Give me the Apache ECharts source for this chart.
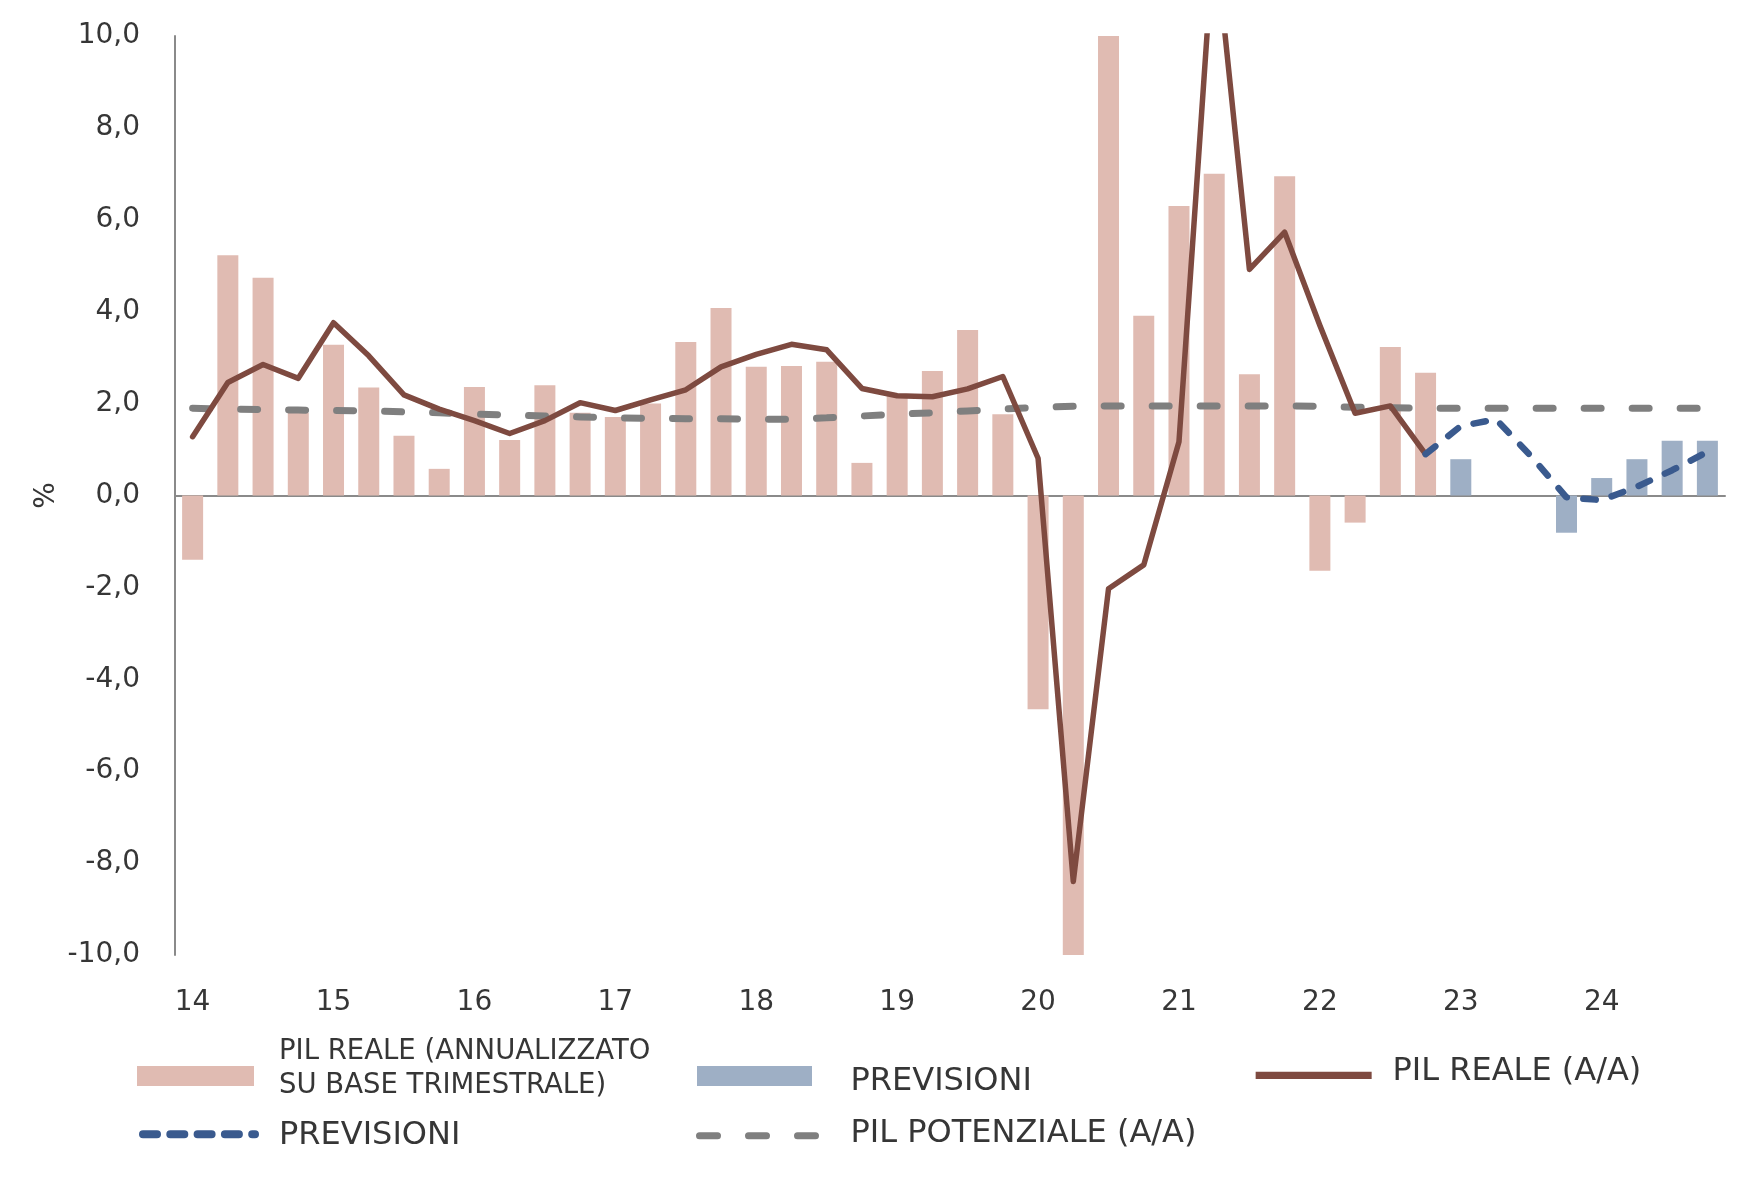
<!DOCTYPE html>
<html>
<head>
<meta charset="utf-8">
<script src="https://cdn.jsdelivr.net/npm/echarts@6/dist/echarts.min.js"></script>
<style>
html,body{margin:0;padding:0;background:#fff;}
#chart{width:1754px;height:1194px;}
</style>
</head>
<body>
<div id="chart"></div>
<script>
// Quarters 2014 T1 .. 2024 T4
const categories = [
  '14 T1','14 T2','14 T3','14 T4','15 T1','15 T2','15 T3','15 T4',
  '16 T1','16 T2','16 T3','16 T4','17 T1','17 T2','17 T3','17 T4',
  '18 T1','18 T2','18 T3','18 T4','19 T1','19 T2','19 T3','19 T4',
  '20 T1','20 T2','20 T3','20 T4','21 T1','21 T2','21 T3','21 T4',
  '22 T1','22 T2','22 T3','22 T4','23 T1','23 T2','23 T3','23 T4',
  '24 T1','24 T2','24 T3','24 T4'
];
// PIL reale, annualizzato su base trimestrale (%)
const pilTrimestrale = [
  -1.40, 5.23, 4.74, 1.80, 3.28, 2.35, 1.30, 0.58,
  2.36, 1.21, 2.40, 1.80, 1.71, 2.00, 3.34, 4.08,
  2.80, 2.82, 2.91, 0.71, 2.20, 2.71, 3.60, 1.77,
  -4.65, -10.10, 10.00, 3.91, 6.30, 7.00, 2.64, 6.95,
  -1.64, -0.59, 3.23, 2.67, null, null, null, null,
  null, null, null, null
];
// Previsioni (barre)
const previsioniBarre = [
  null, null, null, null, null, null, null, null,
  null, null, null, null, null, null, null, null,
  null, null, null, null, null, null, null, null,
  null, null, null, null, null, null, null, null,
  null, null, null, null, 0.79, null, null, -0.81,
  0.38, 0.79, 1.19, 1.19
];
// PIL reale (A/A)
const pilAnnuo = [
  1.28, 2.46, 2.85, 2.55, 3.76, 3.04, 2.19, 1.88,
  1.63, 1.35, 1.63, 2.02, 1.85, 2.08, 2.30, 2.80,
  3.07, 3.29, 3.17, 2.33, 2.17, 2.15, 2.32, 2.59,
  0.81, -8.40, -2.03, -1.51, 1.17, 12.30, 4.92, 5.73,
  3.70, 1.79, 1.95, 0.90, null, null, null, null,
  null, null, null, null
];
// Previsioni (A/A)
const previsioniAnnue = [
  null, null, null, null, null, null, null, null,
  null, null, null, null, null, null, null, null,
  null, null, null, null, null, null, null, null,
  null, null, null, null, null, null, null, null,
  null, null, null, 0.90, 1.51, 1.66, 0.85, -0.04,
  -0.10, 0.19, 0.55, 0.95
];
// PIL potenziale (A/A)
const pilPotenziale = [
  1.90, 1.88, 1.87, 1.86, 1.85, 1.84, 1.82, 1.80,
  1.77, 1.75, 1.73, 1.71, 1.69, 1.68, 1.67, 1.67,
  1.66, 1.66, 1.69, 1.73, 1.77, 1.80, 1.84, 1.88,
  1.92, 1.94, 1.95, 1.95, 1.95, 1.95, 1.95, 1.95,
  1.94, 1.92, 1.91, 1.90, 1.90, 1.90, 1.90, 1.90,
  1.90, 1.90, 1.90, 1.90
];
const yTicks = { min: -10, max: 10, interval: 2 };

const FONT = '"DejaVu Sans", "Open Sans", sans-serif';
const TXT = '#363636';
const PINK = '#e0bbb2';
const BLUEBAR = '#9eafc5';
const BROWN = '#7e4a40';
const BLUE = '#3a5a8e';
const GREY = '#7f7f7f';
const CLEAR = 'rgba(0,0,0,0)';

const chart = echarts.init(document.getElementById('chart'), null, {renderer: 'canvas'});

// Each legend entry is drawn by two legend components: one shows only the key,
// the other only the label, so that each can be placed vertically on its own.
function legendPair(name, label, left, w, iconTop, textTop, fs, lh, padLeft, iconOpts) {
  const base = {
    data: [name], left: left, orient: 'horizontal',
    itemWidth: w, itemHeight: 20, selectedMode: false, padding: 0,
    formatter: () => label
  };
  const iconLegend = Object.assign({}, base, {
    top: iconTop,
    textStyle: { fontFamily: FONT, fontSize: fs, lineHeight: lh, color: CLEAR, padding: [0, 0, 0, padLeft] }
  }, iconOpts);
  const textLegend = Object.assign({}, base, {
    top: textTop,
    icon: 'rect',
    itemStyle: { opacity: 0 },
    lineStyle: { opacity: 0 },
    textStyle: { fontFamily: FONT, fontSize: fs, lineHeight: lh, color: TXT, padding: [0, 0, 0, padLeft] }
  });
  return [iconLegend, textLegend];
}

const legends = [].concat(
  legendPair('PIL REALE (ANNUALIZZATO SU BASE TRIMESTRALE)', 'PIL REALE (ANNUALIZZATO\nSU BASE TRIMESTRALE)',
    137, 117, 1042, 1034.5, 27.5, 34, 20, { icon: 'rect' }),
  legendPair('PREVISIONI', 'PREVISIONI',
    697, 115, 1060, 1065.5, 32, 32, 33.5, { icon: 'rect' }),
  legendPair('PIL REALE (A/A)', 'PIL REALE (A/A)',
    1252, 116, 1059.3, 1055.5, 32, 32, 19.5, {
      itemStyle: { opacity: 0 },
      lineStyle: { color: BROWN, width: 7.3, type: 'solid', cap: 'butt' }
    }),
  legendPair('PREVISIONI (A/A)', 'PREVISIONI',
    139, 112, 1118.2, 1120, 32, 32, 23, {
      itemStyle: { opacity: 0 },
      lineStyle: { color: BLUE, width: 8, type: [14, 13.3], cap: 'round' }
    }),
  legendPair('PIL POTENZIALE (A/A)', 'PIL POTENZIALE (A/A)',
    696, 116, 1119.7, 1117.5, 32, 32, 33.5, {
      itemStyle: { opacity: 0 },
      lineStyle: { color: GREY, width: 7, type: [18, 31], cap: 'round' }
    })
);

chart.setOption({
  animation: false,
  backgroundColor: '#fff',
  grid: { left: 175, right: 29, top: 36, bottom: 239, containLabel: false },
  legend: legends,
  xAxis: [
    {
      type: 'category', data: categories, boundaryGap: true,
      axisLine: { show: false, onZero: false },
      axisTick: { show: false },
      axisLabel: {
        interval: 3, margin: 34,
        fontFamily: FONT, fontSize: 28, color: TXT,
        formatter: v => v.split(' ')[0]
      },
      splitLine: { show: false }
    },
    {
      type: 'category', data: categories, boundaryGap: true, position: 'bottom',
      axisLine: { show: true, onZero: true, lineStyle: { color: '#8a8a8a', width: 2 } },
      axisTick: { show: false }, axisLabel: { show: false }, splitLine: { show: false }
    }
  ],
  yAxis: {
    type: 'value', min: yTicks.min, max: yTicks.max, interval: yTicks.interval,
    name: '%', nameLocation: 'middle', nameGap: 114, nameMoveOverlap: false,
    nameTextStyle: { fontFamily: FONT, fontSize: 28, color: TXT },
    axisLine: { show: true, lineStyle: { color: '#8a8a8a', width: 2 } },
    axisTick: { show: false },
    splitLine: { show: false },
    axisLabel: {
      margin: 35, fontFamily: FONT, fontSize: 28, color: TXT,
      formatter: v => v.toFixed(1).replace('.', ',')
    }
  },
  series: [
    {
      name: 'PIL REALE (ANNUALIZZATO SU BASE TRIMESTRALE)', type: 'bar',
      data: pilTrimestrale, barWidth: 21, barGap: '-100%',
      itemStyle: { color: PINK }, z: 1
    },
    {
      name: 'PREVISIONI', type: 'bar',
      data: previsioniBarre, barWidth: 21, barGap: '-100%',
      itemStyle: { color: BLUEBAR }, z: 1
    },
    {
      name: 'PIL POTENZIALE (A/A)', type: 'line', data: pilPotenziale,
      symbol: 'none', smooth: false,
      lineStyle: { color: GREY, width: 7, type: [17, 31], cap: 'round' },
      itemStyle: { color: GREY }, z: 3
    },
    {
      name: 'PIL REALE (A/A)', type: 'line', data: pilAnnuo,
      symbol: 'none', connectNulls: false,
      lineStyle: { color: BROWN, width: 5.5, cap: 'round', join: 'round' },
      itemStyle: { color: BROWN }, z: 4
    },
    {
      name: 'PREVISIONI (A/A)', type: 'line', data: previsioniAnnue,
      symbol: 'none',
      lineStyle: { color: BLUE, width: 6.5, type: [12.5, 16.5], cap: 'round' },
      itemStyle: { color: BLUE }, z: 4
    }
  ]
});
</script>
</body>
</html>
